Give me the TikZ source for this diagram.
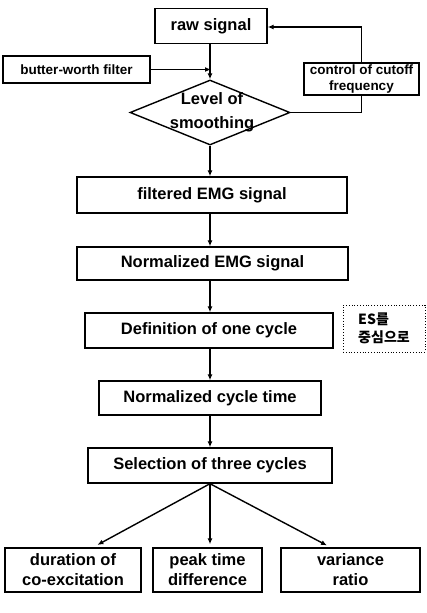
\documentclass[tikz,border=0pt]{standalone}
\usepackage{fontspec}
\setmainfont{Liberation Sans}
\newfontfamily\krfont{Noto Sans CJK KR}
\usetikzlibrary{shapes.geometric,arrows.meta,calc}

\begin{document}
\begin{tikzpicture}[x=1pt, y=-1pt, line width=1.4pt,
		box/.style={shape=rectangle, draw, inner sep=2pt, align=center, font=\fontsize{16.5}{20}\selectfont\bfseries},
		smallbox/.style={box, font=\fontsize{13.5}{16}\selectfont\bfseries},
		decision/.style={shape=diamond, draw, inner sep=0pt, minimum width=160pt, minimum height=65pt},
		flow/.style={-{Latex[length=6pt, width=5pt]}}]
		% Paths, nodes and wires:
		\useasboundingbox (0, 0) rectangle (426, 613);
		\node[box, minimum width=112pt, minimum height=35pt] (raw) at (211, 26){raw signal};
		\node[smallbox, minimum width=147pt, minimum height=27pt] (bw) at (76.5, 69.5){butter-worth filter};
		\node[smallbox, minimum width=115pt, minimum height=32pt, inner sep=0pt] (ctrl) at (361.5, 79){control of cutoff\\frequency};
		\node[decision] (lvl) at (210, 112.5){};
		\node[align=center, inner sep=0pt, font=\fontsize{16.5}{24}\selectfont\bfseries] (lvltxt) at (212, 112){Level of\\smoothing};
		\node[box, minimum width=270pt, minimum height=36pt] (filt) at (212, 195){filtered EMG signal};
		\node[box, minimum width=271pt, minimum height=33pt] (nemg) at (212.5, 263.5){Normalized EMG signal};
		\node[box, minimum width=248pt, minimum height=35pt] (def) at (209, 330.5){Definition of one cycle};
		\node[draw, dotted, line width=0.8pt, minimum width=82pt, minimum height=47pt, align=left, inner sep=0pt, font=\krfont\fontsize{14}{18}\selectfont\bfseries] (es) at (384, 328.5){ES를\\중심으로};
		\node[box, minimum width=222pt, minimum height=34pt] (ncyc) at (210, 398){Normalized cycle time};
		\node[box, minimum width=244pt, minimum height=35pt] (sel) at (210, 465.5){Selection of three cycles};
		\node[box, minimum width=136pt, minimum height=44pt] (dur) at (73, 570){duration of\\co-excitation};
		\node[box, minimum width=109pt, minimum height=44pt] (peak) at (207.5, 570){peak time\\difference};
		\node[box, minimum width=139pt, minimum height=44pt] (var) at (350.5, 570){variance\\ratio};
		\coordinate (join) at (raw.south |- bw.east);
		\draw[flow] (raw.south -| lvl) -- (lvl.north);
		\draw[flow] (bw) -- (join);
		\draw (lvl.east) -- (ctrl.south |- lvl.east) -- (ctrl.south);
		\draw[flow] (ctrl.north) |- ([yshift=-1pt]raw.east);
		\foreach \from/\to in {lvl/filt, filt/nemg, nemg/def, def/ncyc, ncyc/sel}
			\draw[flow] (\from.south -| lvl) -- (\to.north -| lvl);
		\draw[flow, shorten >=5pt] (sel.south) -- ([xshift=20pt]dur.north);
		\draw[flow, shorten >=3pt] (sel.south) -- (sel.south |- peak.north);
		\draw[flow, shorten >=4pt] (sel.south) -- ([xshift=-20pt]var.north);
	\end{tikzpicture}
\end{document}
